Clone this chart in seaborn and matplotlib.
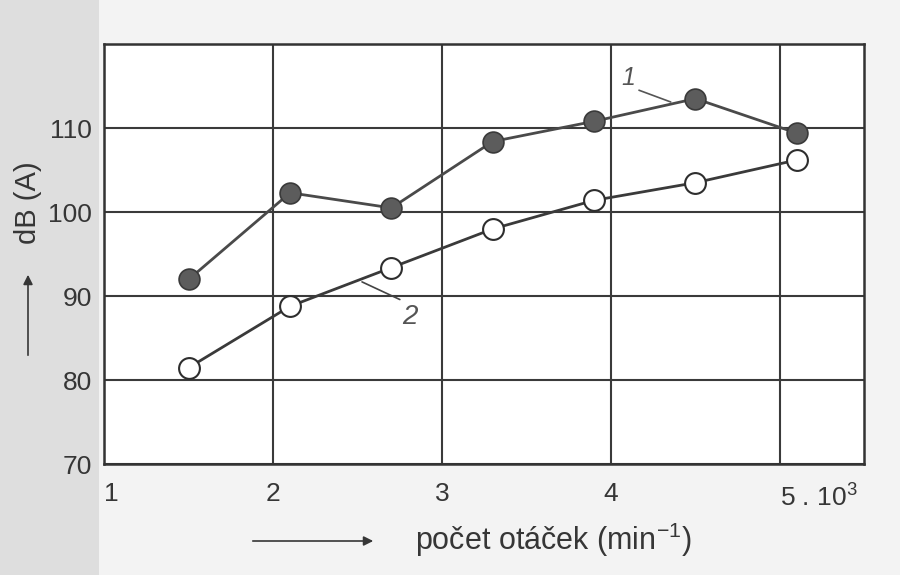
import matplotlib
matplotlib.use("Agg")
import matplotlib.pyplot as plt
from matplotlib.patches import Rectangle
import seaborn as sns
import pandas as pd

# data
speed = [1.5, 2.1, 2.7, 3.3, 3.9, 4.5, 5.1]          # x 10^3 min^-1
curve1 = [92.0, 102.3, 100.5, 108.4, 110.8, 113.5, 109.4]
curve2 = [81.5, 88.8, 93.4, 98.0, 101.4, 103.5, 106.2]
xticks = [1, 2, 3, 4, 5]
xticklabels = ["1", "2", "3", "4", "5 . 10$^3$"]
yticks = [70, 80, 90, 100, 110]

sns.set_theme(style="white")
FONT = ["Liberation Sans", "DejaVu Sans"]
plt.rcParams["font.family"] = FONT
plt.rcParams["mathtext.fontset"] = "custom"
plt.rcParams["mathtext.rm"] = "Liberation Sans"
INK = "#363636"

fig = plt.figure(figsize=(9, 5.75), dpi=100, facecolor="#f3f3f3")
fig.add_artist(Rectangle((0, 0), 0.11, 1, transform=fig.transFigure,
                         facecolor="#dedede", edgecolor="none", zorder=-10))
ax = fig.add_axes([0.1159, 0.1925, 0.8444, 0.731])
ax.set_facecolor("white")

df1 = pd.DataFrame({"x": speed, "y": curve1})
df2 = pd.DataFrame({"x": speed, "y": curve2})
sns.lineplot(data=df1, x="x", y="y", ax=ax, color="#4a4a4a", lw=2.0,
             marker="o", markersize=15, markerfacecolor="#5c5c5c",
             markeredgecolor="#3a3a3a", markeredgewidth=1.2, zorder=4)
sns.lineplot(data=df2, x="x", y="y", ax=ax, color="#3a3a3a", lw=2.0,
             marker="o", markersize=15, markerfacecolor="white",
             markeredgecolor="#2e2e2e", markeredgewidth=1.5, zorder=4)

ax.set_xlim(1, 5.5)
ax.set_ylim(70, 120)
ax.set_xticks(xticks)
ax.set_xticklabels(xticklabels)
ax.set_yticks(yticks + [120])
ax.set_yticklabels([str(v) for v in yticks] + [""])
ax.grid(True, color="#3a3a3a", lw=1.5)
ax.set_axisbelow(True)
for s in ax.spines.values():
    s.set_color("#333333")
    s.set_linewidth(1.8)
ax.tick_params(axis="both", length=0, labelsize=19, colors=INK)
ax.tick_params(axis="x", pad=13)
ax.tick_params(axis="y", pad=9)
lab = ax.get_xticklabels()
lab[-1].set_horizontalalignment("left")
lab[0].set_horizontalalignment("left")
ax.set_xlabel("")
ax.set_ylabel("")

# curve labels
ax.text(4.10, 116.0, "1", fontsize=18, color="#555", style="italic",
        ha="center", va="center")
ax.plot([4.166, 4.354], [114.5, 113.1], color="#555", lw=1.2)
ax.text(2.81, 87.5, "2", fontsize=20, color="#555", style="italic",
        ha="center", va="center")
ax.plot([2.75, 2.526], [89.6, 91.7], color="#444", lw=1.2)

# axis titles with arrows
fig.text(28 / 900, 1 - 203 / 575, "dB (A)", rotation=90, fontsize=21,
         color=INK, ha="center", va="center")
ax.annotate("", xy=(28, 575 - 272), xytext=(28, 575 - 358),
            xycoords="figure pixels", textcoords="figure pixels",
            arrowprops=dict(arrowstyle="-|>", color=INK, lw=1.2,
                            mutation_scale=14))
fig.text(415 / 900, 1 - 540 / 575, "počet otáček (min$^{-1}$)", fontsize=22,
         color=INK, ha="left", va="center")
ax.annotate("", xy=(376, 575 - 541), xytext=(250, 575 - 541),
            xycoords="figure pixels", textcoords="figure pixels",
            arrowprops=dict(arrowstyle="-|>", color=INK, lw=1.2,
                            mutation_scale=14))

fig.savefig("out.png", dpi=100, facecolor=fig.get_facecolor())
